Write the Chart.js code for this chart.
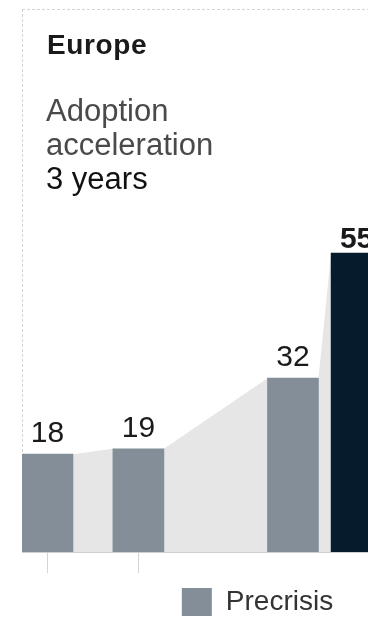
<!DOCTYPE html>
<html>
<head>
<meta charset="utf-8">
<title>Europe – adoption acceleration</title>
<script src="https://cdn.jsdelivr.net/npm/chart.js@4.4.0/dist/chart.umd.min.js"></script>
<style>
  html, body { margin: 0; padding: 0; background: #fff; }
  body {
    width: 368px; height: 620px; overflow: hidden; position: relative;
    font-family: "Liberation Sans", Arial, Helvetica, sans-serif;
  }
  /* dashed panel edge, top and left */
  .frame {
    position: absolute; left: 22px; top: 9px; width: 400px; height: 543px;
    background-image:
      repeating-linear-gradient(to right, #d4d4d4 0 3px, transparent 3px 5px),
      repeating-linear-gradient(to bottom, #d4d4d4 0 3px, transparent 3px 5px);
    background-size: 100% 1px, 1px 100%;
    background-repeat: no-repeat;
  }
  #chart { position: absolute; left: 0; top: 0; }
  .region {
    position: absolute; left: 47px; top: 29px;
    font-weight: bold; font-size: 28px; line-height: 32px; letter-spacing: 0.6px;
    color: #1a1a1a;
  }
  .note {
    position: absolute; left: 46px; top: 94px;
    font-size: 31px; line-height: 34px; color: #4a4a4a;
  }
  .note .years { color: #111; }
</style>
</head>
<body>
<div class="frame"></div>
<canvas id="chart" width="493" height="630"></canvas>
<div class="region" id="region"></div>
<div class="note" id="note"></div>

<script>
// Data
const regionName = "Europe";
const noteLines = ["Adoption", "acceleration"];
const accelerationYears = "3 years";
const seriesNames = ["Precrisis", "During crisis"];
const periods = [2017, 2018, 2019.7, 2020.4];   // survey points, decimal years
const precrisis = [18, 19, 32];
const duringCrisis = [55];

document.getElementById("region").textContent = regionName;
const note = document.getElementById("note");
noteLines.forEach(line => {
  const d = document.createElement("div");
  d.textContent = line;
  note.appendChild(d);
});
const yrs = document.createElement("div");
yrs.className = "years";
yrs.textContent = accelerationYears;
note.appendChild(yrs);

const FONT = '"Liberation Sans", Arial, Helvetica, sans-serif';
const GREY = "#838e98";
const NAVY = "#061b2b";

// light grey area joining the tops of neighbouring bars
const connectorPlugin = {
  id: "connectors",
  beforeDatasetsDraw(chart) {
    const bars = [];
    chart.data.datasets.forEach((ds, i) => {
      chart.getDatasetMeta(i).data.forEach(el => bars.push(el.getProps(["x", "y", "width", "base"], true)));
    });
    bars.sort((a, b) => a.x - b.x);
    const c = chart.ctx;
    c.save();
    c.fillStyle = "#e6e6e6";
    for (let i = 0; i < bars.length - 1; i++) {
      const a = bars[i], b = bars[i + 1];
      c.beginPath();
      c.moveTo(a.x + a.width / 2, a.base);
      c.lineTo(a.x + a.width / 2, a.y);
      c.lineTo(b.x - b.width / 2, b.y);
      c.lineTo(b.x - b.width / 2, b.base);
      c.closePath();
      c.fill();
    }
    c.restore();
  }
};

// value labels above bars
const valueLabelPlugin = {
  id: "valueLabels",
  afterDatasetsDraw(chart) {
    const c = chart.ctx;
    c.save();
    c.textAlign = "center";
    c.textBaseline = "alphabetic";
    c.fillStyle = "#1a1a1a";
    chart.data.datasets.forEach((ds, i) => {
      const bold = i === 1;
      c.font = (bold ? "bold " : "") + "30px " + FONT;
      chart.getDatasetMeta(i).data.forEach((el, j) => {
        c.fillText(String(ds.data[j].y), el.x, el.y - (bold ? 5 : 12));
      });
    });
    c.restore();
  }
};

const ctx = document.getElementById("chart").getContext("2d");
new Chart(ctx, {
  type: "bar",
  data: {
    datasets: [
      {
        label: seriesNames[0],
        data: precrisis.map((v, i) => ({ x: periods[i], y: v })),
        backgroundColor: GREY,
        barThickness: 51,
        grouped: false
      },
      {
        label: seriesNames[1],
        data: duringCrisis.map((v, i) => ({ x: periods[precrisis.length + i], y: v })),
        backgroundColor: NAVY,
        barThickness: 51,
        grouped: false
      }
    ]
  },
  options: {
    responsive: false,
    animation: false,
    devicePixelRatio: 1,
    layout: { padding: { left: 22, top: 226, right: 0, bottom: 4 } },
    scales: {
      x: {
        type: "linear",
        min: 2016.72,
        max: 2021.9,
        offset: false,
        afterBuildTicks: scale => { scale.ticks = periods.map(v => ({ value: v })); },
        afterFit: scale => { scale.height = 26; },
        ticks: { display: false },
        grid: {
          offset: false,
          drawOnChartArea: false,
          tickLength: 21,
          color: c => (c.index < 2 ? "#d4d4d4" : "rgba(0,0,0,0)")
        },
        border: { display: true, color: "#cfcfcf" }
      },
      y: { display: false, min: 0, max: 60 }
    },
    plugins: {
      legend: {
        position: "bottom",
        labels: {
          boxWidth: 30,
          boxHeight: 28,
          padding: 10,
          color: "#333",
          font: { size: 28, family: FONT },
          // only the precrisis key falls inside this crop
          filter: item => item.datasetIndex === 0
        }
      },
      tooltip: { enabled: false }
    }
  },
  plugins: [connectorPlugin, valueLabelPlugin]
});
</script>
</body>
</html>
